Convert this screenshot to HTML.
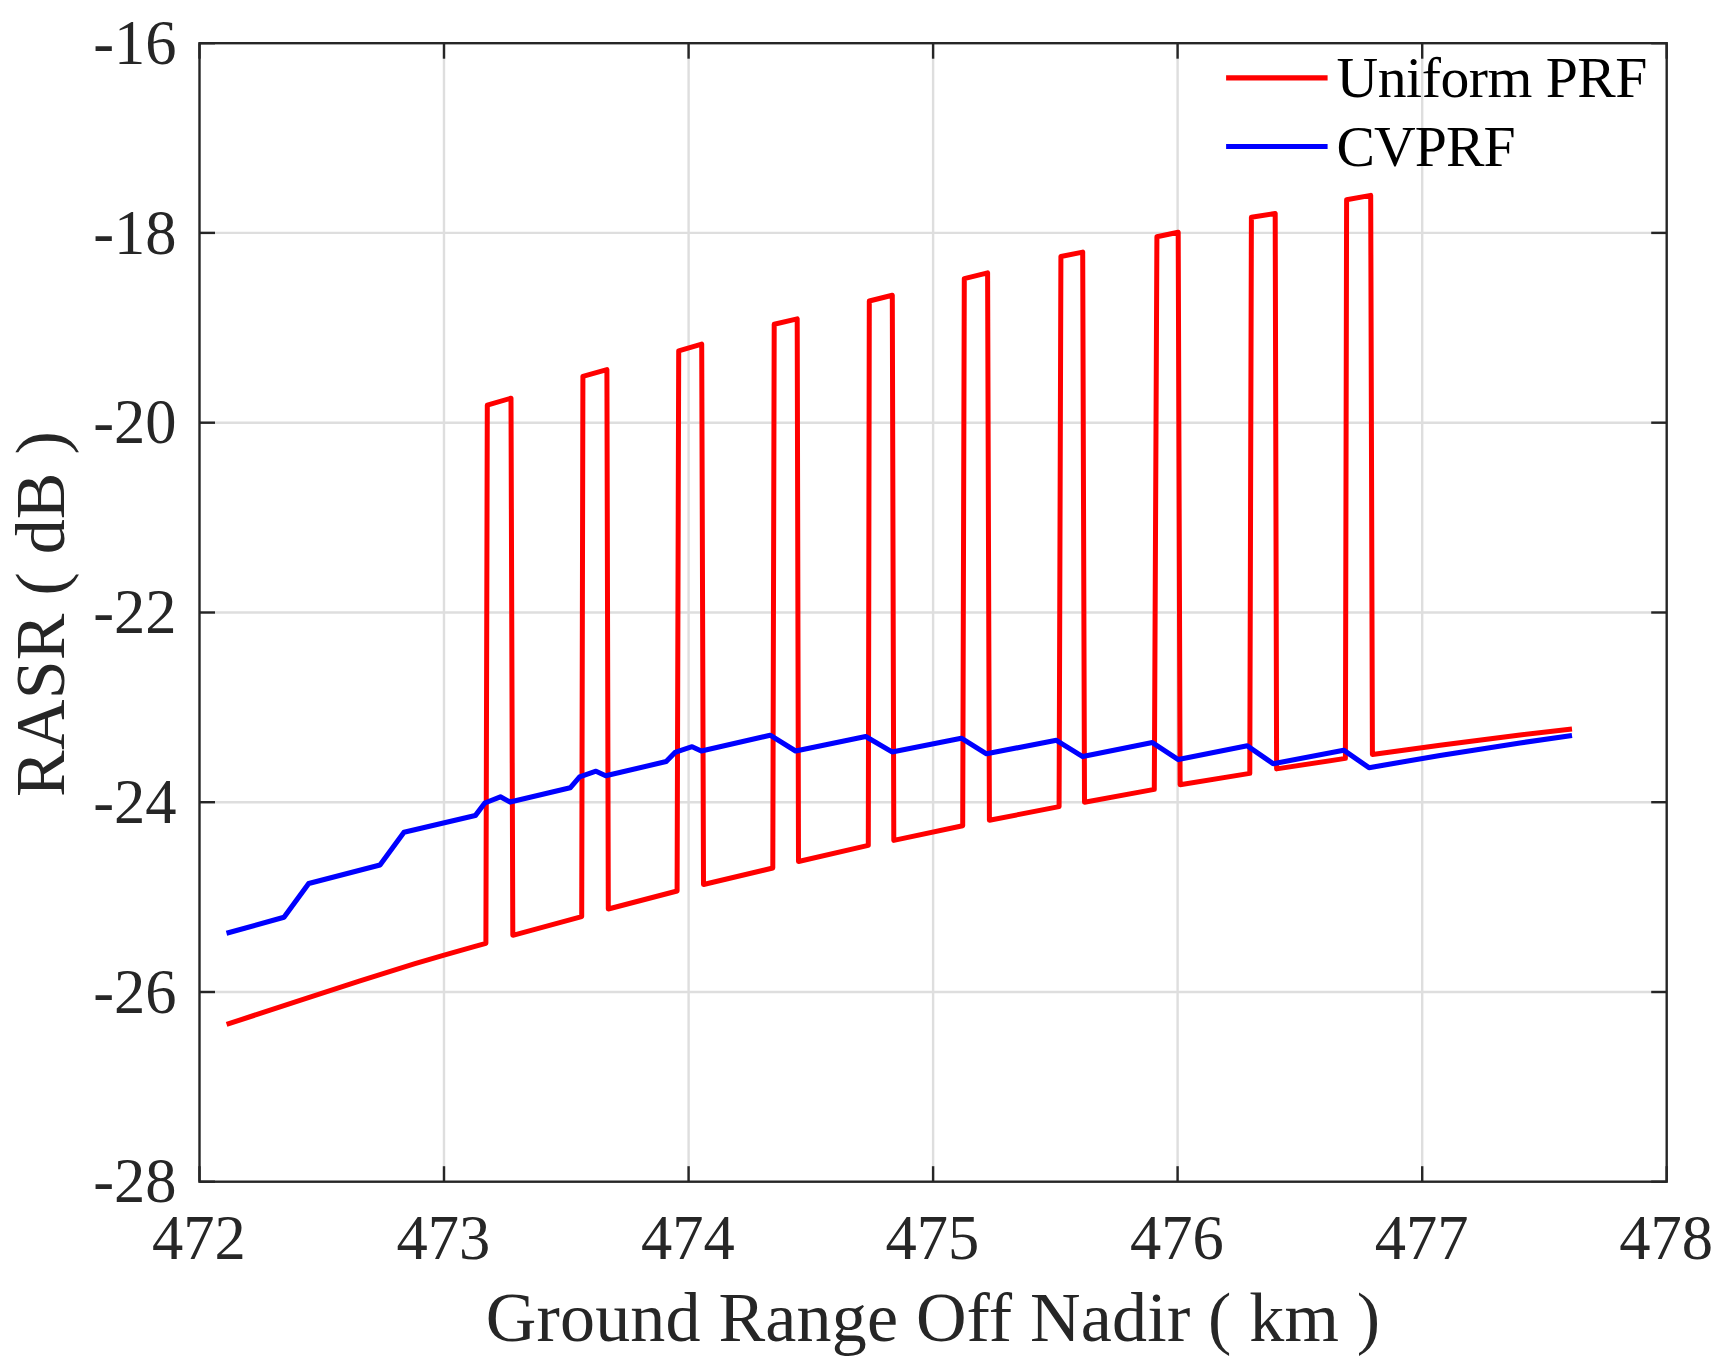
<!DOCTYPE html>
<html lang="en">
<head>
<meta charset="utf-8">
<title>RASR vs Ground Range Off Nadir</title>
<style>
html,body{margin:0;padding:0;background:#ffffff;}
body{width:1722px;height:1369px;overflow:hidden;}
svg{display:block;}
text{font-family:"Liberation Serif","Times New Roman",Times,serif;}
.tk{font-size:62.5px;fill:#262626;letter-spacing:0px;}
.lb{font-size:70px;fill:#262626;letter-spacing:0.19px;}
.lg{font-size:57.7px;fill:#000000;}
</style>
</head>
<body>
<svg width="1722" height="1369" viewBox="0 0 1722 1369">
<rect x="0" y="0" width="1722" height="1369" fill="#ffffff"/>
<g stroke="#dedede" stroke-width="2.4" fill="none">
<line x1="444.0" y1="43.2" x2="444.0" y2="1181.7"/>
<line x1="688.6" y1="43.2" x2="688.6" y2="1181.7"/>
<line x1="933.1" y1="43.2" x2="933.1" y2="1181.7"/>
<line x1="1177.6" y1="43.2" x2="1177.6" y2="1181.7"/>
<line x1="1422.2" y1="43.2" x2="1422.2" y2="1181.7"/>
<line x1="199.5" y1="232.9" x2="1666.7" y2="232.9"/>
<line x1="199.5" y1="422.7" x2="1666.7" y2="422.7"/>
<line x1="199.5" y1="612.5" x2="1666.7" y2="612.5"/>
<line x1="199.5" y1="802.2" x2="1666.7" y2="802.2"/>
<line x1="199.5" y1="992.0" x2="1666.7" y2="992.0"/>
</g>
<polyline points="226.6,1024.4 300.0,1000.3 360.0,980.9 415.0,963.6 444.1,955.1 475.0,946.4 485.9,943.3 487.3,405.2 511.0,398.2 512.8,935.3 581.7,916.6 582.9,376.3 606.9,369.6 608.3,909.0 677.1,891.0 678.7,350.8 701.7,344.1 703.5,884.5 772.8,868.0 774.2,324.3 797.2,318.9 798.5,861.5 868.3,845.4 869.3,301.0 892.3,295.3 893.8,840.4 962.7,825.7 964.3,278.6 987.6,272.9 989.4,820.3 1059.1,806.6 1060.9,256.5 1082.7,252.1 1084.5,802.2 1154.3,789.4 1156.9,236.8 1178.2,232.2 1180.1,784.7 1249.8,773.4 1251.4,217.3 1275.2,213.5 1276.6,768.9 1345.4,758.4 1346.6,199.8 1370.7,195.4 1372.4,754.6 1440.0,745.3 1520.0,734.9 1572.0,729.0" fill="none" stroke="#ff0000" stroke-width="5.0" stroke-linejoin="round" stroke-linecap="butt"/>
<polyline points="226.5,933.2 284.0,917.3 308.7,883.5 380.0,865.0 404.0,832.2 475.3,815.6 484.8,803.0 500.4,796.8 510.1,802.1 570.2,787.8 579.6,776.9 596.0,771.2 605.7,775.8 666.2,761.6 675.0,752.4 692.1,746.7 701.3,751.0 770.1,735.2 795.6,751.0 865.7,736.5 892.0,751.9 961.3,738.2 986.5,753.8 1056.4,740.3 1082.7,756.6 1152.4,742.6 1178.3,759.6 1247.3,745.8 1273.1,763.7 1343.7,750.2 1369.0,767.7 1440.0,755.4 1520.0,743.0 1572.0,735.4" fill="none" stroke="#0000ff" stroke-width="5.1" stroke-linejoin="round" stroke-linecap="butt"/>
<g stroke="#262626" stroke-width="2.4" fill="none" stroke-linecap="butt">
<rect x="199.5" y="43.2" width="1467.2" height="1138.5"/>
<line x1="199.5" y1="1181.7" x2="199.5" y2="1166.2"/>
<line x1="199.5" y1="43.2" x2="199.5" y2="58.7"/>
<line x1="444.0" y1="1181.7" x2="444.0" y2="1166.2"/>
<line x1="444.0" y1="43.2" x2="444.0" y2="58.7"/>
<line x1="688.6" y1="1181.7" x2="688.6" y2="1166.2"/>
<line x1="688.6" y1="43.2" x2="688.6" y2="58.7"/>
<line x1="933.1" y1="1181.7" x2="933.1" y2="1166.2"/>
<line x1="933.1" y1="43.2" x2="933.1" y2="58.7"/>
<line x1="1177.6" y1="1181.7" x2="1177.6" y2="1166.2"/>
<line x1="1177.6" y1="43.2" x2="1177.6" y2="58.7"/>
<line x1="1422.2" y1="1181.7" x2="1422.2" y2="1166.2"/>
<line x1="1422.2" y1="43.2" x2="1422.2" y2="58.7"/>
<line x1="1666.7" y1="1181.7" x2="1666.7" y2="1166.2"/>
<line x1="1666.7" y1="43.2" x2="1666.7" y2="58.7"/>
<line x1="199.5" y1="43.2" x2="215.0" y2="43.2"/>
<line x1="1666.7" y1="43.2" x2="1651.2" y2="43.2"/>
<line x1="199.5" y1="232.9" x2="215.0" y2="232.9"/>
<line x1="1666.7" y1="232.9" x2="1651.2" y2="232.9"/>
<line x1="199.5" y1="422.7" x2="215.0" y2="422.7"/>
<line x1="1666.7" y1="422.7" x2="1651.2" y2="422.7"/>
<line x1="199.5" y1="612.5" x2="215.0" y2="612.5"/>
<line x1="1666.7" y1="612.5" x2="1651.2" y2="612.5"/>
<line x1="199.5" y1="802.2" x2="215.0" y2="802.2"/>
<line x1="1666.7" y1="802.2" x2="1651.2" y2="802.2"/>
<line x1="199.5" y1="992.0" x2="215.0" y2="992.0"/>
<line x1="1666.7" y1="992.0" x2="1651.2" y2="992.0"/>
<line x1="199.5" y1="1181.7" x2="215.0" y2="1181.7"/>
<line x1="1666.7" y1="1181.7" x2="1651.2" y2="1181.7"/>
</g>
<text class="tk" x="176.5" y="63.8" text-anchor="end">-16</text>
<text class="tk" x="176.5" y="253.5" text-anchor="end">-18</text>
<text class="tk" x="176.5" y="443.3" text-anchor="end">-20</text>
<text class="tk" x="176.5" y="633.1" text-anchor="end">-22</text>
<text class="tk" x="176.5" y="822.8" text-anchor="end">-24</text>
<text class="tk" x="176.5" y="1012.6" text-anchor="end">-26</text>
<text class="tk" x="176.5" y="1202.3" text-anchor="end">-28</text>
<text class="tk" x="198.8" y="1258.8" text-anchor="middle">472</text>
<text class="tk" x="443.3" y="1258.8" text-anchor="middle">473</text>
<text class="tk" x="687.9" y="1258.8" text-anchor="middle">474</text>
<text class="tk" x="932.4" y="1258.8" text-anchor="middle">475</text>
<text class="tk" x="1176.9" y="1258.8" text-anchor="middle">476</text>
<text class="tk" x="1421.5" y="1258.8" text-anchor="middle">477</text>
<text class="tk" x="1666.0" y="1258.8" text-anchor="middle">478</text>
<text class="lb" x="933.0" y="1341.0" text-anchor="middle">Ground Range Off Nadir ( km )</text>
<text class="lb" transform="translate(64.0,614.0) rotate(-90)" text-anchor="middle">RASR ( dB )</text>
<line x1="1226.1" y1="77.9" x2="1327.6" y2="77.9" stroke="#ff0000" stroke-width="5.2"/>
<line x1="1226.1" y1="146.5" x2="1327.6" y2="146.5" stroke="#0000ff" stroke-width="5.2"/>
<text class="lg" x="1336.6" y="97.3" style="letter-spacing:-0.49px">Uniform PRF</text>
<text class="lg" x="1336.6" y="166.0" style="letter-spacing:-0.97px">CVPRF</text>
</svg>
</body>
</html>
